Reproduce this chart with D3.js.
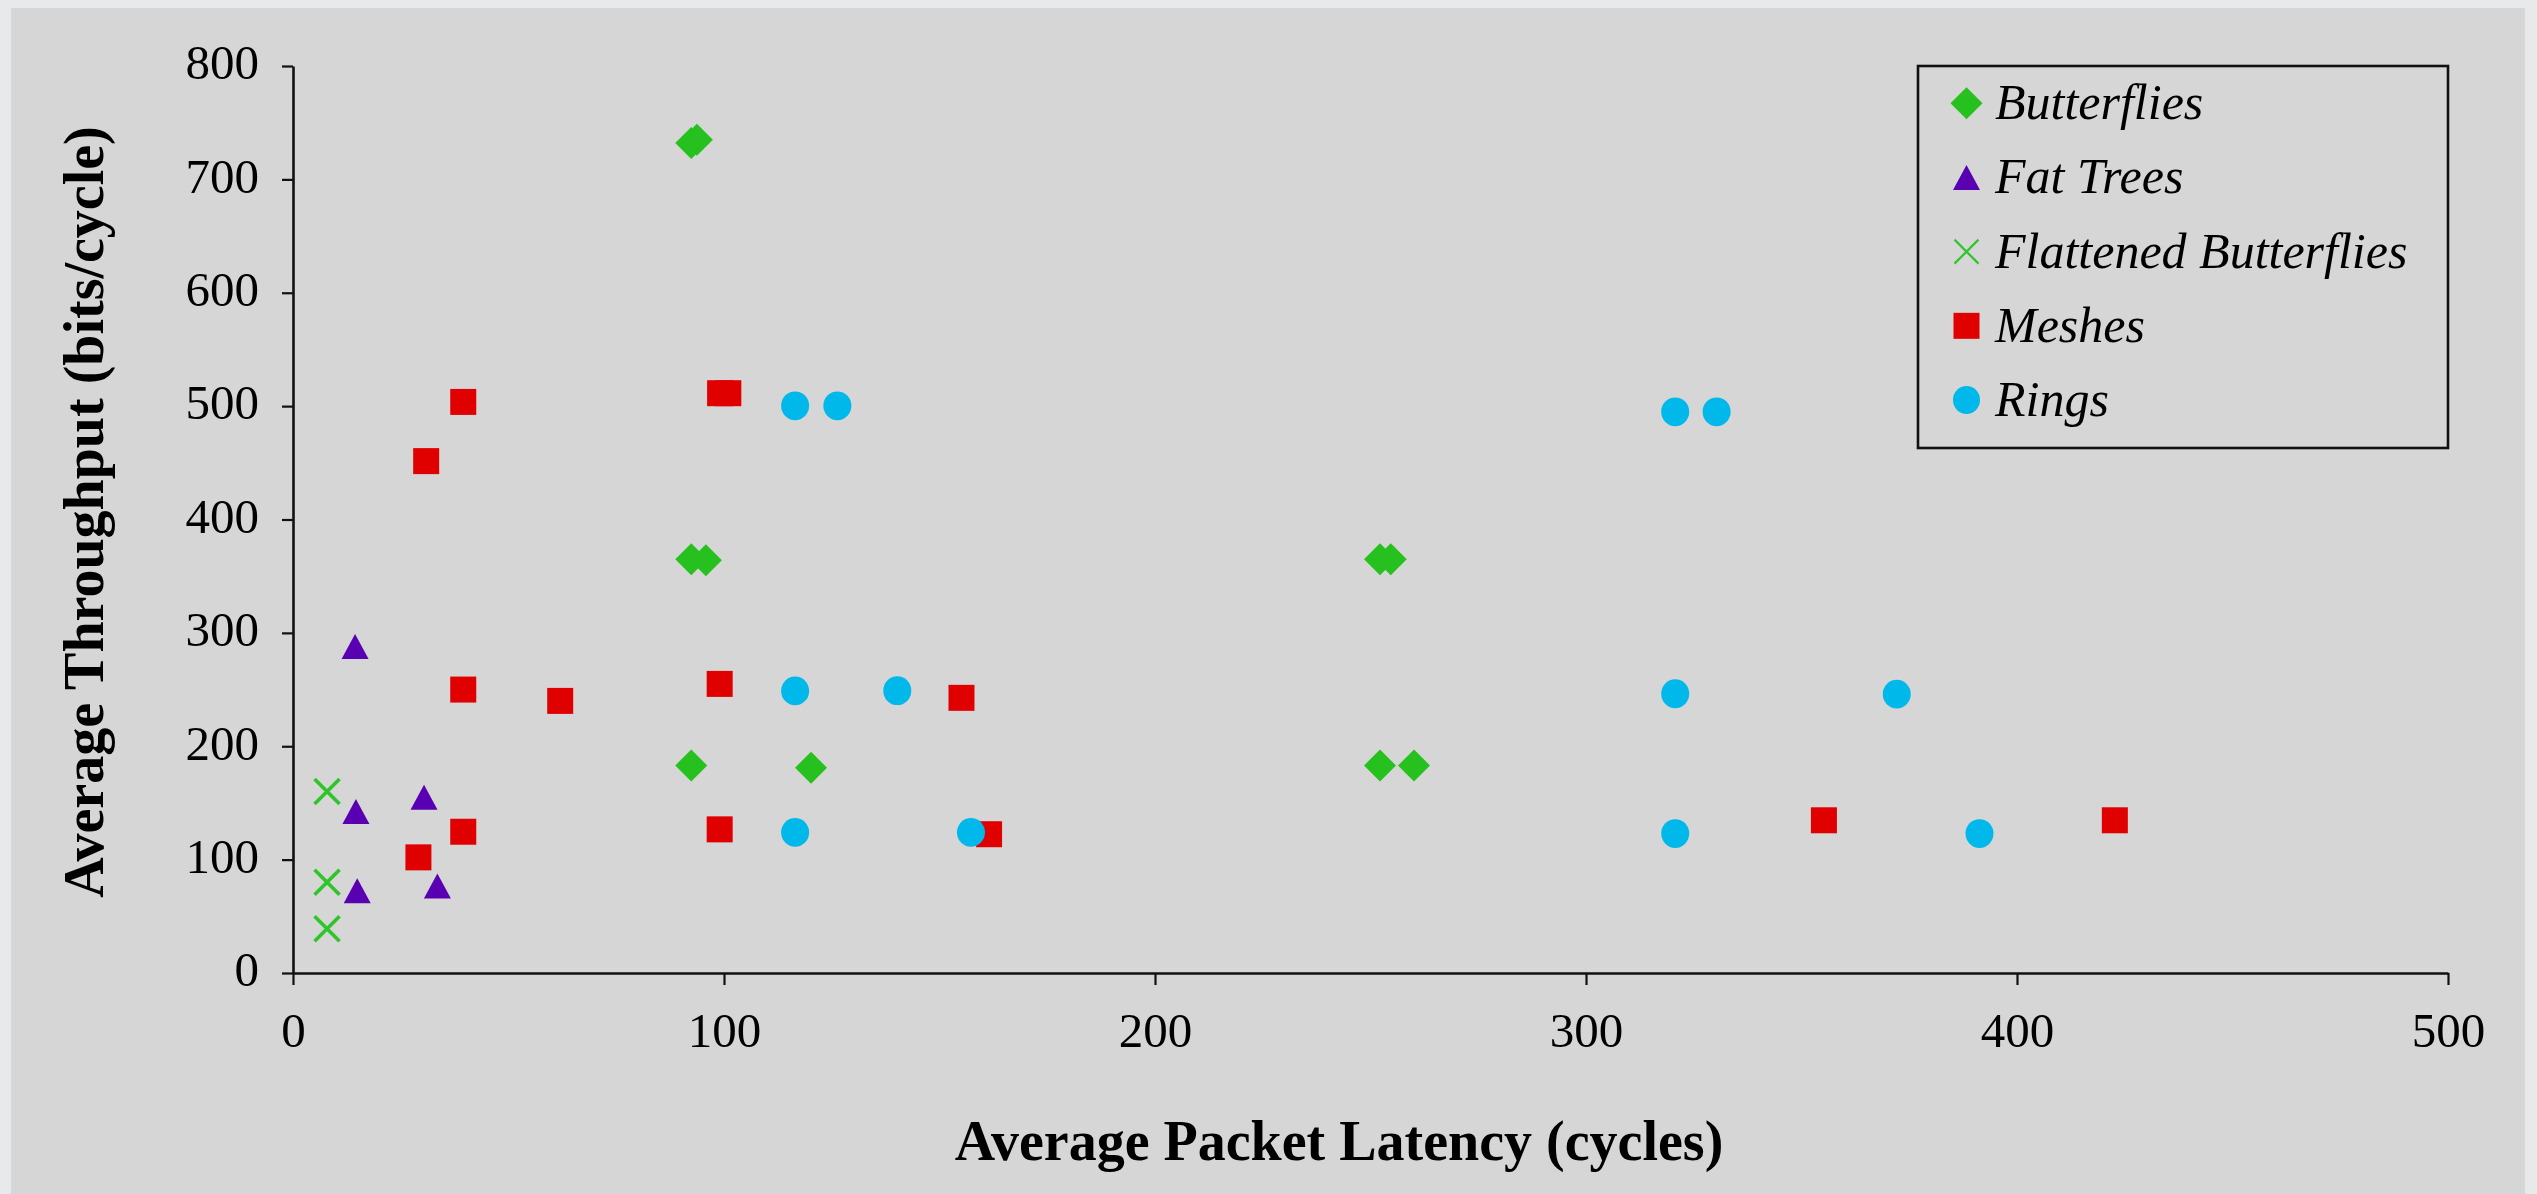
<!DOCTYPE html>
<html>
<head>
<meta charset="utf-8">
<script src="https://cdn.jsdelivr.net/npm/d3@7"></script>
<style>
  html, body { margin: 0; padding: 0; background: #e8e9ea; overflow: hidden; }
  svg { display: block; }
  text { font-family: "Liberation Serif", "Times New Roman", Times, serif; fill: #000; }
</style>
</head>
<body>
<svg id="chart" width="2537" height="1194"></svg>
<script>
// Network topologies: average packet latency (cycles) vs. average throughput (bits/cycle)
const seriesNames = ["Butterflies", "Fat Trees", "Flattened Butterflies", "Meshes", "Rings"];

const butterfliesLatency    = [92.4, 93.7, 92.4, 95.8, 252.2, 254.7, 92.4, 120.2, 252.2, 260.1];
const butterfliesThroughput = [732, 735, 365, 364, 365, 365, 183, 181, 183, 183];

const fatTreesLatency    = [14.4, 14.6, 30.4, 14.9, 33.5];
const fatTreesThroughput = [288, 142.5, 155, 72.5, 76.7];

const flattenedLatency    = [7.9, 7.9, 7.9];
const flattenedThroughput = [160, 80, 39];

const meshesLatency    = [30.9, 39.5, 99.1, 101.0, 39.5, 62.0, 99.0, 155.1, 39.5, 29.1, 99.0, 161.5, 355.2, 422.7];
const meshesThroughput = [451.5, 503.7, 511.4, 511.4, 250, 240, 255, 242.7, 124.6, 102, 126.7, 122.4, 134.7, 134.7];

const ringsLatency    = [116.5, 126.3, 320.7, 330.3, 116.5, 140.2, 320.7, 372.1, 116.5, 157.3, 320.7, 391.3];
const ringsThroughput = [500.3, 500.3, 495, 495, 248.8, 249, 246.3, 246, 124, 124, 123, 123];

const xTickValues = [0, 100, 200, 300, 400, 500];
const yTickValues = [0, 100, 200, 300, 400, 500, 600, 700, 800];

const xTitle = "Average Packet Latency (cycles)";
const yTitle = "Average Throughput (bits/cycle)";

// Marker styling per series
const seriesStyle = [
  { shape: "diamond",  color: "#26c11e" },
  { shape: "triangle", color: "#5800b2" },
  { shape: "cross",    color: "#2fc52a" },
  { shape: "square",   color: "#e10000" },
  { shape: "circle",   color: "#00b8ea" }
];

const seriesData = [
  [butterfliesLatency, butterfliesThroughput],
  [fatTreesLatency, fatTreesThroughput],
  [flattenedLatency, flattenedThroughput],
  [meshesLatency, meshesThroughput],
  [ringsLatency, ringsThroughput]
];

const svg = d3.select("#chart");

// chart area background
svg.append("rect")
  .attr("x", 11).attr("y", 8)
  .attr("width", 2514).attr("height", 1186)
  .attr("fill", "#d6d6d6");

const x = d3.scaleLinear().domain([0, 500]).range([293, 2448]);
const y = d3.scaleLinear().domain([0, 800]).range([973, 66]);

// marker drawing
function drawMarker(sel, shape, color, cx, cy, legend) {
  if (shape === "diamond") {
    const h = 16;
    sel.append("path")
      .attr("d", `M${cx},${cy - h}L${cx + h},${cy}L${cx},${cy + h}L${cx - h},${cy}Z`)
      .attr("fill", color);
  } else if (shape === "triangle") {
    const w = 13.5, hh = 12.5;
    sel.append("path")
      .attr("d", `M${cx},${cy - hh}L${cx + w},${cy + hh}L${cx - w},${cy + hh}Z`)
      .attr("fill", color);
  } else if (shape === "cross") {
    const s = legend ? 12 : 12.5;
    sel.append("path")
      .attr("d", `M${cx - s},${cy - s}L${cx + s},${cy + s}M${cx - s},${cy + s}L${cx + s},${cy - s}`)
      .attr("stroke", color)
      .attr("stroke-width", legend ? 2.2 : 3.6)
      .attr("fill", "none");
  } else if (shape === "square") {
    const s = 13;
    sel.append("rect")
      .attr("x", cx - s).attr("y", cy - s)
      .attr("width", 2 * s).attr("height", 2 * s)
      .attr("fill", color);
  } else if (shape === "circle") {
    sel.append("ellipse")
      .attr("cx", cx).attr("cy", cy)
      .attr("rx", legend ? 13.5 : 14).attr("ry", legend ? 14 : 14.4)
      .attr("fill", color);
  }
}

// axes
const axisColor = "#111";

const yAxis = svg.append("g")
  .attr("transform", `translate(${x(0)},0)`)
  .call(d3.axisLeft(y).tickValues(yTickValues).tickSize(11).tickSizeOuter(0).tickPadding(23));
yAxis.select(".domain").attr("stroke", axisColor).attr("stroke-width", 2.6);
yAxis.selectAll(".tick line").attr("stroke", axisColor).attr("stroke-width", 2.2);
yAxis.selectAll(".tick text")
  .attr("font-family", '"Liberation Serif", "Times New Roman", serif')
  .attr("font-size", 49).attr("fill", "#000")
  .attr("dy", "0.26em");

const xAxis = svg.append("g")
  .attr("transform", `translate(0,${y(0)})`)
  .call(d3.axisBottom(x).tickValues(xTickValues).tickSize(12).tickSizeOuter(0).tickPadding(27));
xAxis.select(".domain").attr("stroke", axisColor).attr("stroke-width", 2.6);
xAxis.selectAll(".tick line").attr("stroke", axisColor).attr("stroke-width", 2.2);
xAxis.selectAll(".tick text")
  .attr("font-family", '"Liberation Serif", "Times New Roman", serif')
  .attr("font-size", 49).attr("fill", "#000");

// axis titles
svg.append("text")
  .attr("x", 1339).attr("y", 1160)
  .attr("text-anchor", "middle")
  .attr("font-size", 56).attr("font-weight", "bold")
  .text(xTitle);

svg.append("text")
  .attr("transform", "translate(103,512) rotate(-90)")
  .attr("text-anchor", "middle")
  .attr("font-size", 56).attr("font-weight", "bold")
  .text(yTitle);

// data points, series drawn in order
const plot = svg.append("g");
seriesData.forEach(([lat, thr], i) => {
  const g = plot.append("g").attr("class", "series");
  lat.forEach((v, j) => {
    drawMarker(g, seriesStyle[i].shape, seriesStyle[i].color, x(v), y(thr[j]), false);
  });
});

// legend
const legend = svg.append("g");
legend.append("rect")
  .attr("x", 1918).attr("y", 66)
  .attr("width", 530).attr("height", 382)
  .attr("fill", "none")
  .attr("stroke", "#111").attr("stroke-width", 2.6);

const legendRowY = d3.scaleLinear().domain([0, 4]).range([103.3, 400]);
seriesNames.forEach((name, i) => {
  const cy = legendRowY(i);
  drawMarker(legend, seriesStyle[i].shape, seriesStyle[i].color, 1966.5, cy, true);
  legend.append("text")
    .attr("x", 1995).attr("y", cy + 16)
    .attr("font-size", 50).attr("font-style", "italic")
    .text(name);
});
</script>
</body>
</html>
